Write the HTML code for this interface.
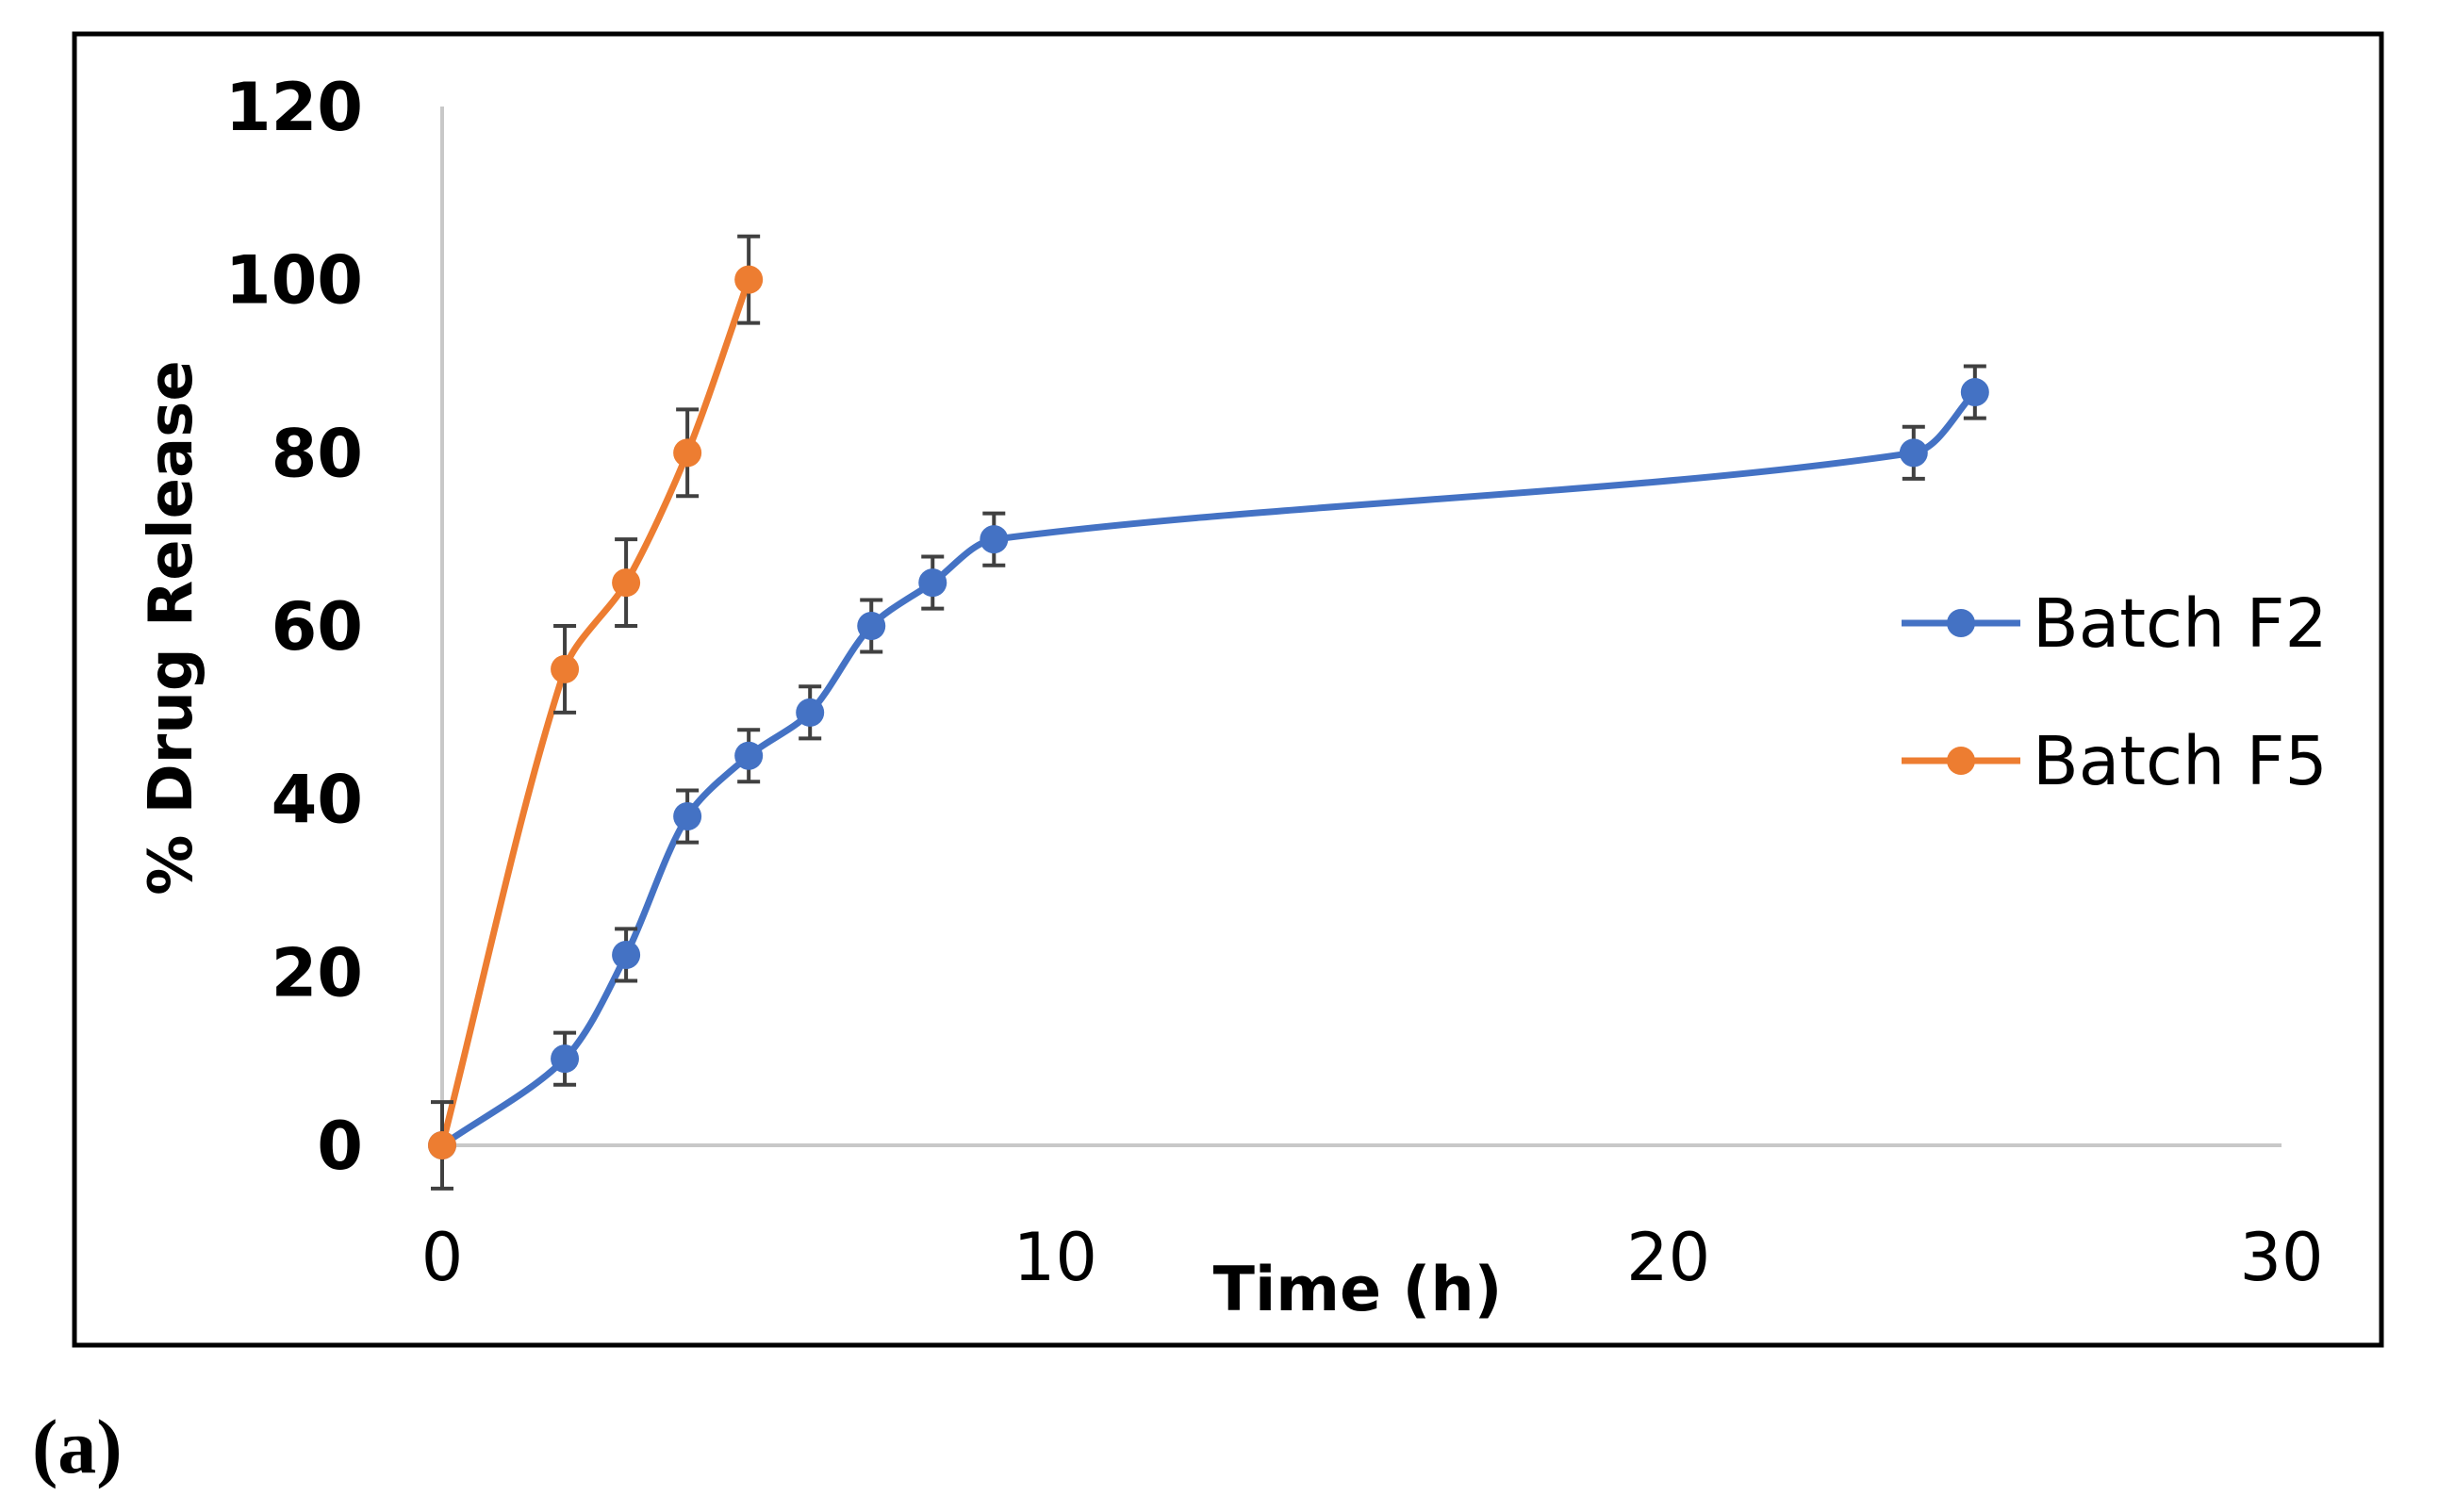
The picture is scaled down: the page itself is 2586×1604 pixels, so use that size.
<!DOCTYPE html>
<html><head><meta charset="utf-8"><style>
html,body{margin:0;padding:0;background:#fff;width:2586px;height:1604px;overflow:hidden}
svg text{font-family:"Liberation Sans",sans-serif}
</style></head><body>
<svg id="chart" width="2586" height="1604" xmlns="http://www.w3.org/2000/svg">
<rect x="79" y="36" width="2447" height="1391" fill="#fff" stroke="#000" stroke-width="5"/>
<g id="axes"></g>
<g id="series"></g>
<text transform="translate(203,666) rotate(-90)" text-anchor="middle" font-size="64" font-weight="bold" fill="#000" style="font-family:'DejaVu Sans',sans-serif">% Drug Release</text>
<text x="1440" y="1390" text-anchor="middle" font-size="65" font-weight="bold" fill="#000" style="font-family:'DejaVu Sans',sans-serif">Time (h)</text>
<g>
<g><line x1="2017" y1="661" x2="2143" y2="661" stroke="#4472C4" stroke-width="7"/><circle cx="2080" cy="661" r="15" fill="#4472C4"/><text x="2156" y="686" font-size="71" fill="#000" style="font-family:'DejaVu Sans',sans-serif">Batch F2</text></g>
<g><line x1="2017" y1="807" x2="2143" y2="807" stroke="#ED7D31" stroke-width="7"/><circle cx="2080" cy="807" r="15" fill="#ED7D31"/><text x="2156" y="832" font-size="71" fill="#000" style="font-family:'DejaVu Sans',sans-serif">Batch F5</text></g>
</g>
<text x="34" y="1562" style="font-family:'Liberation Serif',serif" font-size="82" font-weight="bold" fill="#000">(a)</text>
</svg>
<script>
const xTicks=[0,10,20,30];
const yTicks=[0,20,40,60,80,100,120];
const f2X=[0,2,3,4,5,6,7,8,9,24,25];
const f2Y=[0,10,22,38,45,50,60,65,70,80,87];
const f2Err=[0,3,3,3,3,3,3,3,3,3,3];
const f5X=[0,2,3,4,5];
const f5Y=[0,55,65,80,100];
const f5Err=[5,5,5,5,5];
const NS='http://www.w3.org/2000/svg';
const X0=469,X1=2420,Y0=1215,Y1=113;
const sx=v=>X0+(v-0)/(30-0)*(X1-X0);
const sy=v=>Y0-(v-0)/(120-0)*(Y0-Y1);
function mk(t,a,p){const e=document.createElementNS(NS,t);for(const k in a)e.setAttribute(k,a[k]);p.appendChild(e);return e;}
const axes=document.getElementById('axes');
let l=mk('line',{x1:sx(0),y1:sy(120),x2:sx(0),y2:sy(0),stroke:'#c8c8c8','stroke-width':4},axes);


l=mk('line',{x1:sx(0),y1:sy(0),x2:sx(30),y2:sy(0),stroke:'#c8c8c8','stroke-width':4},axes);


yTicks.forEach(v=>{const t=mk('text',{x:385,y:sy(v)+25,'text-anchor':'end','font-size':70,'font-weight':'bold',fill:'#000',style:"font-family:'DejaVu Sans',sans-serif"},axes);t.textContent=v;

});
xTicks.forEach(v=>{const t=mk('text',{x:sx(v),y:1358,'text-anchor':'middle','font-size':70,fill:'#000',style:"font-family:'DejaVu Sans',sans-serif"},axes);t.textContent=v;

});
function smooth(pts){const n=pts.length;const dir=[];
for(let i=0;i<n;i++){const a=pts[Math.max(0,i-1)],b=pts[Math.min(n-1,i+1)];const dx=b[0]-a[0],dy=b[1]-a[1],L=Math.hypot(dx,dy)||1;dir.push([dx/L,dy/L]);}
let s='M'+pts[0][0]+','+pts[0][1];
for(let i=0;i<n-1;i++){const p=pts[i],q=pts[i+1];const L=Math.hypot(q[0]-p[0],q[1]-p[1])*0.3;
s+=' C'+(p[0]+dir[i][0]*L)+','+(p[1]+dir[i][1]*L)+' '+(q[0]-dir[i+1][0]*L)+','+(q[1]-dir[i+1][1]*L)+' '+q[0]+','+q[1];}
return s;}
const ser=document.getElementById('series');
function draw(xs,ys,er,col,name){const g=mk('g',{},ser);


const pts=xs.map((x,i)=>[sx(x),sy(ys[i])]);
mk('path',{d:smooth(pts),fill:'none',stroke:col,'stroke-width':7},g);
xs.forEach((x,i)=>{const cx=sx(x),t=sy(ys[i]+er[i]),b=sy(ys[i]-er[i]);
const e=mk('path',{d:`M${cx},${t}V${b}M${cx-12},${t}H${cx+12}M${cx-12},${b}H${cx+12}`,stroke:'#404040','stroke-width':4,fill:'none'},g);


const c=mk('circle',{cx:cx,cy:sy(ys[i]),r:15,fill:col},g);

});}
draw(f2X,f2Y,f2Err,'#4472C4','series-batch-f2');
draw(f5X,f5Y,f5Err,'#ED7D31','series-batch-f5');
</script>
</body></html>
